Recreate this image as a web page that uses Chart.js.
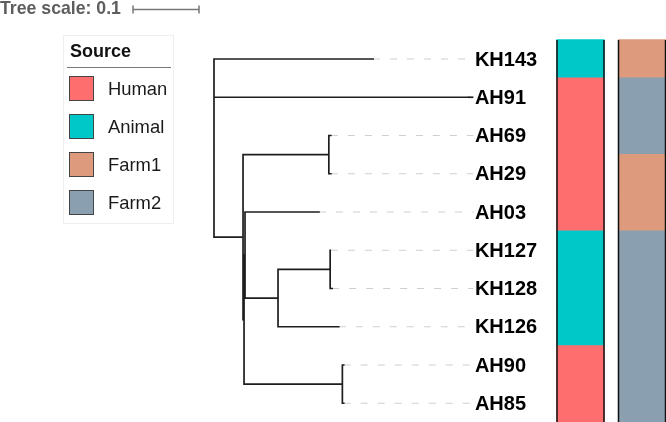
<!DOCTYPE html>
<html>
<head>
<meta charset="utf-8">
<script src="https://cdn.jsdelivr.net/npm/chart.js@4/dist/chart.umd.min.js"></script>
<style>
  body { margin: 0; background: #fff; font-family: "Liberation Sans", Arial, sans-serif; }
  #wrap { position: relative; width: 666px; height: 422px; }
  #scaleTitle { position: absolute; left: 0; top: -2px; font-size: 17.7px; font-weight: bold; color: #5e5e5e; }
  #legend { position: absolute; left: 63px; top: 35px; width: 111px; height: 189px; border: 1px solid #eee; box-sizing: border-box; }
  #legend .title { position: absolute; left: 6px; top: 5px; font-size: 18px; font-weight: bold; color: #111; }
  #legend .rule { position: absolute; left: 3px; right: 2px; top: 31px; border-top: 1px solid #777; }
  #legend .item { position: absolute; left: 5px; height: 26px; }
  #legend .sw { position: absolute; left: 0; top: 0; width: 25px; height: 25px; border: 1px solid #444; box-sizing: border-box; }
  #legend .lbl { position: absolute; left: 39px; top: 2px; font-size: 18.4px; color: #1a1a1a; white-space: nowrap; }
  canvas { position: absolute; left: 0; top: 0; }
</style>
</head>
<body>
<div id="wrap">
  <canvas id="tree" width="666" height="422"></canvas>
  <div id="scaleTitle">Tree scale: 0.1</div>
  <div id="legend"></div>
</div>
<script>
// tree topology (parent of each node) and branch lengths
const nodeNames  = ['root', 'KH143', 'AH91', 'N1', 'C1', 'AH69', 'AH29', 'N2', 'N3', 'AH03', 'C2', 'C3', 'KH127', 'KH128', 'KH126', 'C4', 'AH90', 'AH85'];
const nodeParent = [null, 'root', 'root', 'root', 'N1', 'C1', 'C1', 'N1', 'N2', 'N3', 'N3', 'C2', 'C3', 'C3', 'C2', 'N2', 'C4', 'C4'];
const branchLen  = [0, 0.241, 0.385, 0.044, 0.130, 0.003, 0.003, 0.0015, 0.0015, 0.112, 0.050, 0.079, 0.001, 0.003, 0.092, 0.149, 0.002, 0.002];

// leaves top to bottom and their annotations
const leafOrder = ['KH143', 'AH91', 'AH69', 'AH29', 'AH03', 'KH127', 'KH128', 'KH126', 'AH90', 'AH85'];
const leafSource = ['Animal', 'Human', 'Human', 'Human', 'Human', 'Animal', 'Animal', 'Animal', 'Human', 'Human'];
const leafFarm   = ['Farm1', 'Farm2', 'Farm2', 'Farm1', 'Farm1', 'Farm2', 'Farm2', 'Farm2', 'Farm2', 'Farm2'];

const legendLabels = ['Human', 'Animal', 'Farm1', 'Farm2'];
const legendColors = ['#ff6e6e', '#00c8c8', '#dd9a7d', '#8aa0b1'];
const colorOf = {};
legendLabels.forEach((l, i) => colorOf[l] = legendColors[i]);

// --- layout the tree (depth = sum of branch lengths, y = leaf index / middle of children) ---
const depth = {}, children = {}, ypos = {};
nodeNames.forEach(n => children[n] = []);
nodeNames.forEach((n, i) => {
    if (nodeParent[i]) children[nodeParent[i]].push(n);
});
function setDepth(n, d) {
    depth[n] = d;
    children[n].forEach(c => setDepth(c, d + branchLen[nodeNames.indexOf(c)]));
}
setDepth('root', 0);
function setY(n) {
    if (children[n].length === 0) {
        ypos[n] = leafOrder.indexOf(n);
    } else {
        const ys = children[n].map(setY);
        // root is drawn at its last child, like the original
        ypos[n] = n === 'root' ? ys[ys.length - 1] : (Math.min(...ys) + Math.max(...ys)) / 2;
    }
    return ypos[n];
}
setY('root');

const maxDepth = Math.max(...leafOrder.map(l => depth[l]));
const alignX = maxDepth + 0.008;

const branchPts = [];
nodeNames.forEach((n, i) => {
    const kids = children[n];
    if (kids.length) {
        const ys = kids.map(k => ypos[k]);
        branchPts.push({ x: depth[n], y: Math.min(...ys) }, { x: depth[n], y: Math.max(...ys) }, { x: null, y: null });
    }
    if (nodeParent[i]) {
        branchPts.push({ x: depth[nodeParent[i]], y: ypos[n] }, { x: depth[n], y: ypos[n] }, { x: null, y: null });
    }
});

const dashPts = [];
leafOrder.forEach(l => {
    if (alignX - depth[l] > 0.01) {
        dashPts.push({ x: depth[l], y: ypos[l] }, { x: alignX, y: ypos[l] }, { x: null, y: null });
    }
});
// AH91 reaches the labels, extend it solid
const solidTail = [{ x: depth['AH91'], y: ypos['AH91'] }, { x: alignX, y: ypos['AH91'] }];

const strip1X = 0.5553, strip2X = 0.6485, stripHalf = 23.5 / 660;

function stripData(cats, x) {
    return cats.map((c, i) => ({ x: x, y: [i - 0.5, i + 0.5] }));
}
function edgeData(x) {
    const top = -0.5, bottom = leafOrder.length - 0.5;
    return [
        { x: x - stripHalf, y: top }, { x: x - stripHalf, y: bottom }, { x: null, y: null },
        { x: x + stripHalf, y: top }, { x: x + stripHalf, y: bottom }
    ];
}

const leafLabels = {
    id: 'leafLabels',
    afterDatasetsDraw(chart) {
        const ctx = chart.ctx, xs = chart.scales.x, ys = chart.scales.y;
        ctx.save();
        ctx.font = 'bold 20px "Liberation Sans", Arial, sans-serif';
        ctx.fillStyle = '#000';
        ctx.textBaseline = 'middle';
        leafOrder.forEach((l, i) => {
            ctx.fillText(l, xs.getPixelForValue(alignX) + 1.5, ys.getPixelForValue(i) + 1);
        });
        // tree scale bar (0.1)
        const x0 = xs.getPixelForValue(-0.1227), x1 = xs.getPixelForValue(-0.0227);
        ctx.strokeStyle = '#777';
        ctx.lineWidth = 1.5;
        ctx.beginPath();
        ctx.moveTo(x0, 9.5); ctx.lineTo(x1, 9.5);
        ctx.moveTo(x0, 5.5); ctx.lineTo(x0, 13.5);
        ctx.moveTo(x1, 5.5); ctx.lineTo(x1, 13.5);
        ctx.stroke();
        ctx.restore();
    }
};

new Chart(document.getElementById('tree'), {
    type: 'scatter',
    data: {
        datasets: [
            {
                type: 'bar', data: stripData(leafSource, strip1X), order: 10,
                backgroundColor: leafSource.map(c => colorOf[c]),
                borderWidth: 0, inflateAmount: 0.6, barThickness: 47, grouped: false
            },
            {
                type: 'bar', data: stripData(leafFarm, strip2X), order: 10,
                backgroundColor: leafFarm.map(c => colorOf[c]),
                borderWidth: 0, inflateAmount: 0.6, barThickness: 47, grouped: false
            },
            {
                data: edgeData(strip1X).concat([{ x: null, y: null }], edgeData(strip2X)), order: 1,
                showLine: true, spanGaps: false, pointRadius: 0,
                borderColor: '#111', borderWidth: 1.5
            },
            {
                data: dashPts, showLine: true, spanGaps: false, pointRadius: 0, order: 2,
                borderColor: '#cfcfcf', borderWidth: 1.2, borderDash: [7, 10]
            },
            {
                data: branchPts, showLine: true, spanGaps: false, pointRadius: 0, order: 1,
                borderColor: '#1e1e1e', borderWidth: 1.7, borderCapStyle: 'square'
            },
            {
                data: solidTail, showLine: true, pointRadius: 0, order: 1,
                borderColor: '#1e1e1e', borderWidth: 1.7
            }
        ]
    },
    options: {
        responsive: false,
        animation: false,
        layout: { padding: 0 },
        plugins: { legend: { display: false }, tooltip: { enabled: false } },
        scales: {
            x: { type: 'linear', display: false, offset: false, min: -214 / 660, max: 452 / 660 },
            y: { type: 'linear', display: false, offset: false, reverse: true, min: -59 / 38.25, max: 363 / 38.25 }
        }
    },
    plugins: [leafLabels]
});

// legend
const legend = document.getElementById('legend');
legend.innerHTML = '<div class="title">Source</div><div class="rule"></div>' +
    legendLabels.map((l, i) =>
        `<div class="item" style="top:${40 + i * 38}px"><div class="sw" style="background:${legendColors[i]}"></div><div class="lbl">${l}</div></div>`
    ).join('');
</script>
</body>
</html>
